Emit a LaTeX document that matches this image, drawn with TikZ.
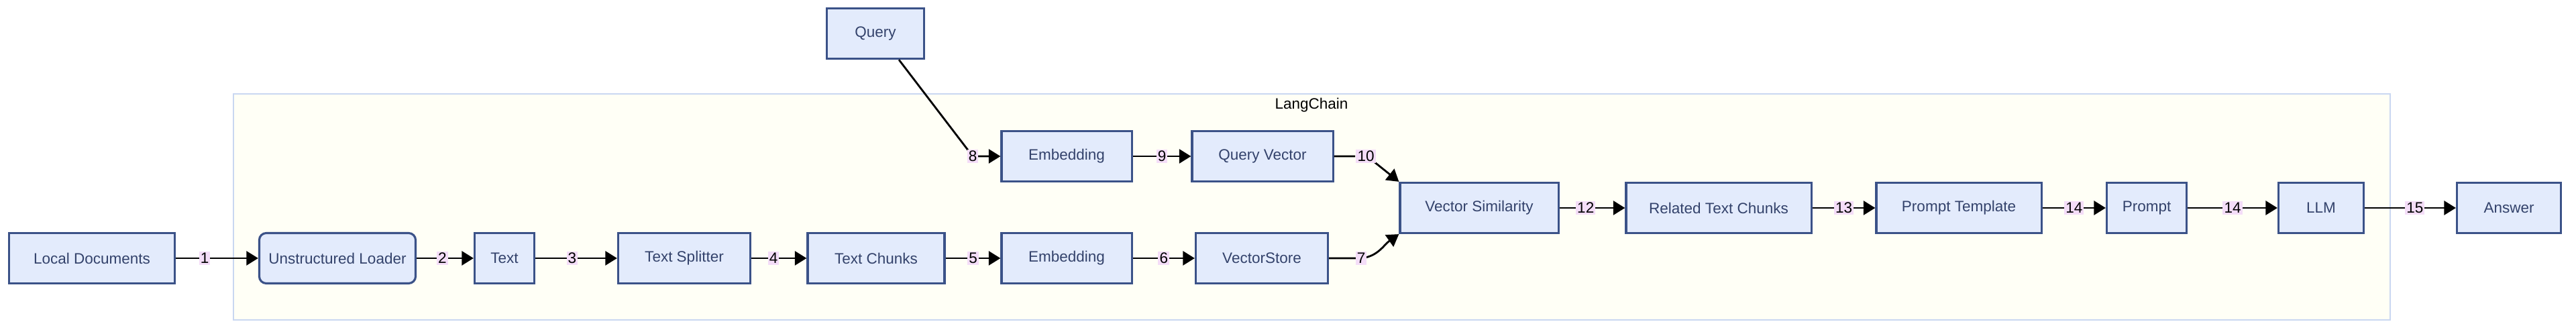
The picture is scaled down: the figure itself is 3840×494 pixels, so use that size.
\documentclass[tikz,border=0pt]{standalone}
\usepackage{fontspec}
\setmainfont{Liberation Sans}
\usetikzlibrary{arrows.meta,patterns}
\definecolor{bfill}{HTML}{E3EBFC}
\definecolor{bdraw}{HTML}{3B5288}
\definecolor{btext}{HTML}{33426B}
\definecolor{cfill}{HTML}{FFFFF6}
\definecolor{cdraw}{HTML}{C9D7F1}
\definecolor{lbl}{HTML}{F4DDF8}
\tikzset{
  box/.style={draw=bdraw,line width=0.9pt,fill=bfill,text=btext,font=\fontsize{6.4}{7}\selectfont,minimum height=0.75cm,inner sep=0pt},
  el/.style={fill=lbl,font=\fontsize{6.4}{7}\selectfont,inner sep=0.6pt,text=black},
  ar/.style={-{Triangle[length=5pt,width=6pt]},line width=0.8pt,black},
}
\begin{document}
\begin{tikzpicture}[x=0.01cm,y=-0.01cm]
\useasboundingbox (0,0) rectangle (3840,494);
\draw[draw=cdraw,fill=cfill,line width=0.8pt] (348,140) rectangle (3563,477);
\node[font=\fontsize{6.4}{7}\selectfont] (lc) at (1955,157) {LangChain};
\node[box,minimum width=2.47cm] (ld) at (137,385) {Local Documents};
\node[box,minimum width=2.33cm,rounded corners=3pt] (ul) at (503,385) {Unstructured Loader};
\node[box,minimum width=0.89cm] (tx) at (752,385) {Text};
\node[box,minimum width=1.97cm] (ts) at (1020,385) {Text Splitter};
\node[box,minimum width=2.04cm] (tc) at (1306,385) {Text Chunks};
\node[box,minimum width=1.94cm] (e1) at (1590,385) {Embedding};
\node[box,minimum width=1.97cm] (vs) at (1881,385) {VectorStore};
\node[box,minimum width=1.94cm] (e2) at (1590,233) {Embedding};
\node[box,minimum width=2.10cm] (qv) at (1882,233) {Query Vector};
\node[box,minimum width=2.36cm] (sim) at (2205,310) {Vector Similarity};
\node[box,minimum width=2.76cm] (rt) at (2562,310) {Related Text Chunks};
\node[box,minimum width=2.46cm] (pt) at (2920,310) {Prompt Template};
\node[box,minimum width=1.19cm] (pr) at (3200,310) {Prompt};
\node[box,minimum width=1.27cm] (llm) at (3460,310) {LLM};
\node[box,minimum width=1.55cm] (ans) at (3740,310) {Answer};
\node[box,minimum width=1.45cm] (q) at (1305,50) {Query};
\draw[ar] (ld) -- node[el,pos=0.35]{1} (ul);
\draw[ar] (ul) -- node[el,pos=0.45]{2} (tx);
\draw[ar] (tx) -- node[el,pos=0.45]{3} (ts);
\draw[ar] (ts) -- node[el,pos=0.4]{4} (tc);
\draw[ar] (tc) -- node[el,pos=0.5]{5} (e1);
\draw[ar] (e1) -- node[el,pos=0.5]{6} (vs);
\coordinate (c8) at (1450,233);
\draw[ar] ([xshift=0.35cm]q.south) -- (c8) node[el]{8} -- (e2.west);
\draw[ar] (e2) -- node[el,pos=0.5]{9} (qv);
\draw[ar] (qv.east) -- (2020,233) node[el,anchor=west,inner xsep=0.6pt]{10} (2048,241) -- (sim.north west);
\draw[ar] (vs.east) -- (2025,385) to[out=0,in=215] node[el,pos=0.05]{7} (sim.south west);
\draw[ar] (sim) -- node[el,pos=0.4]{12} (rt);
\draw[ar] (rt) -- node[el,pos=0.5]{13} (pt);
\draw[ar] (pt) -- node[el,pos=0.5]{14} (pr);
\draw[ar] (pr) -- node[el,pos=0.5]{14} (llm);
\draw[ar] (llm) -- node[el,pos=0.55]{15} (ans);
\end{tikzpicture}
\end{document}
